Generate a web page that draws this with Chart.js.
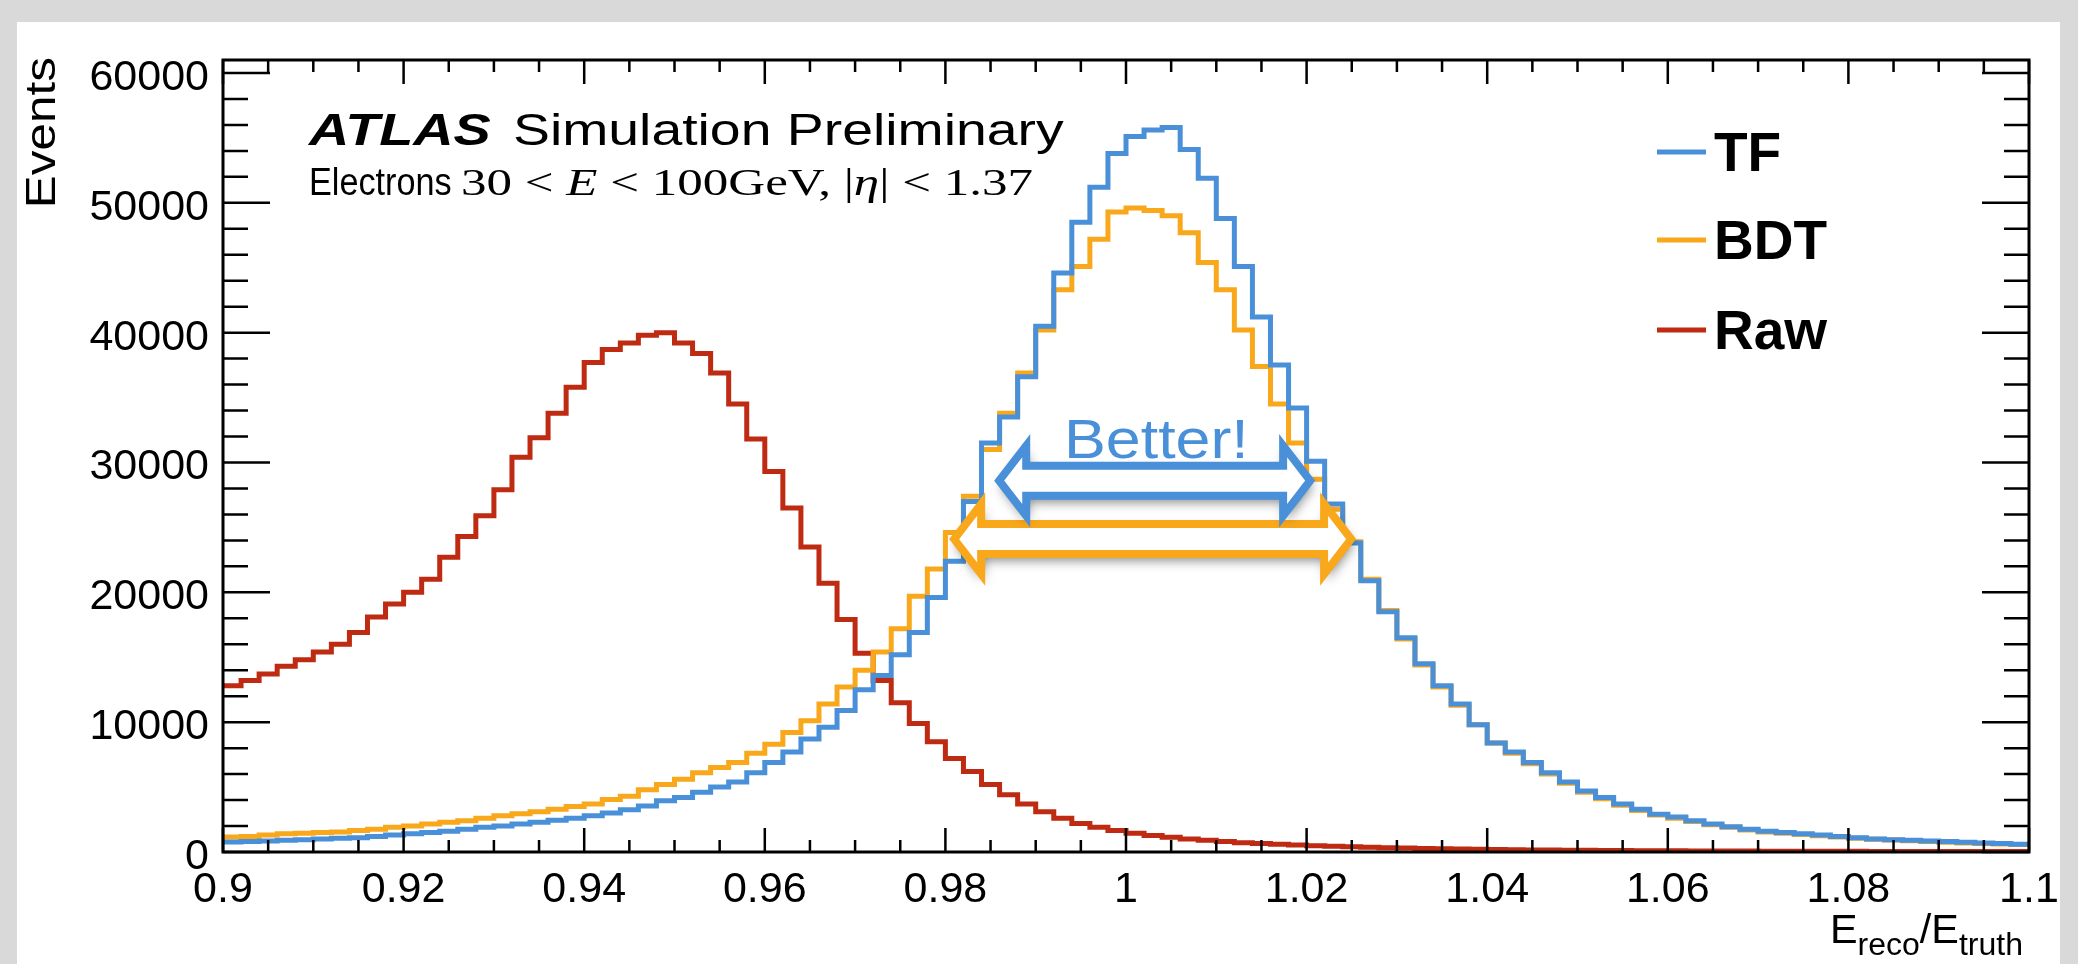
<!DOCTYPE html>
<html>
<head>
<meta charset="utf-8">
<script src="https://cdn.jsdelivr.net/npm/chart.js@4.4.1/dist/chart.umd.min.js"></script>
<style>
  html, body { margin: 0; padding: 0; background: #d9d9d9; overflow: hidden; }
  canvas { display: block; }
</style>
</head>
<body>
<canvas id="response" width="2078" height="964"></canvas>
<script>
// binning of the three histograms: 100 bins from 0.9 to 1.1
const xMin = 0.9;
const xMax = 1.1;
const binWidth = 0.002;
const yMax = 61000;

const xTickValues = [0.9, 0.92, 0.94, 0.96, 0.98, 1.0, 1.02, 1.04, 1.06, 1.08, 1.1];
const yTickValues = [0, 10000, 20000, 30000, 40000, 50000, 60000];

const seriesNames = ["TF", "BDT", "Raw"];

const tfCounts = [
  770, 800, 850, 900, 950, 1000, 1050, 1100, 1200, 1300,
  1400, 1500, 1600, 1750, 1900, 2000, 2150, 2300, 2450, 2600,
  2800, 3000, 3250, 3550, 3950, 4200, 4600, 5000, 5400, 6100,
  6900, 7700, 8700, 9600, 10900, 12500, 13600, 15200, 16900, 19600,
  22400, 27000, 31500, 33500, 36600, 40500, 44600, 48500, 51200, 53800,
  55100, 55600, 55800, 54100, 51900, 48800, 45100, 41200, 37500, 34200,
  30100, 26800, 23800, 20900, 18500, 16500, 14500, 12800, 11400, 9800,
  8400, 7700, 6900, 6100, 5400, 4700, 4200, 3700, 3300, 2900,
  2700, 2400, 2150, 1950, 1750, 1600, 1500, 1400, 1300, 1200,
  1100, 1000, 950, 900, 850, 800, 750, 700, 650, 600,
];

const bdtCounts = [
  1150, 1200, 1300, 1400, 1450, 1500, 1550, 1650, 1750, 1900,
  2000, 2150, 2300, 2400, 2600, 2800, 2950, 3100, 3300, 3500,
  3700, 4050, 4300, 4800, 5200, 5600, 6100, 6500, 6900, 7600,
  8300, 9200, 10100, 11400, 12700, 14000, 15400, 17200, 19700, 21800,
  24600, 27400, 31000, 33800, 36900, 40200, 43300, 45100, 47200, 49300,
  49600, 49400, 49000, 47700, 45400, 43300, 40200, 37400, 34500, 31500,
  28700, 26400, 23900, 21000, 18600, 16400, 14400, 12700, 11300, 9800,
  8400, 7600, 6800, 6000, 5300, 4600, 4100, 3600, 3200, 2850,
  2600, 2350, 2100, 1900, 1700, 1550, 1450, 1350, 1250, 1150,
  1050, 980, 920, 860, 800, 750, 700, 660, 620, 580,
];

const rawCounts = [
  12800, 13200, 13700, 14300, 14800, 15400, 16000, 16900, 18100, 19100,
  20000, 21000, 22700, 24300, 25900, 27900, 30400, 31900, 33800, 35800,
  37700, 38700, 39200, 39800, 40000, 39200, 38400, 36900, 34500, 31800,
  29300, 26500, 23500, 20700, 17900, 15300, 13200, 11500, 9900, 8500,
  7200, 6200, 5200, 4400, 3700, 3100, 2600, 2200, 1900, 1650,
  1450, 1280, 1130, 1000, 900, 800, 720, 650, 590, 530,
  480, 440, 400, 360, 330, 300, 270, 250, 230, 210,
  190, 175, 160, 150, 140, 130, 120, 110, 100, 95,
  90, 85, 80, 75, 70, 65, 60, 58, 55, 52,
  50, 48, 46, 44, 42, 40, 38, 36, 34, 32,
];

// width arrows drawn on the peaks, in axis units
const tfArrow = { from: 0.98596, to: 1.02039, at: 28600 };
const bdtArrow = { from: 0.98097, to: 1.02493, at: 24100 };

const tfColor = "#4a90d9";
const bdtColor = "#f9a81c";
const rawColor = "#bf2a12";

const sans = "'Liberation Sans', Arial, Helvetica, sans-serif";
const serif = "'Liberation Serif', 'Times New Roman', serif";

function histogramPoints(counts) {
  const points = counts.map((count, i) => ({ x: xMin + i * binWidth, y: count }));
  points.push({ x: xMin + counts.length * binWidth, y: counts[counts.length - 1] });
  return points;
}

function formatX(value) {
  return String(Number(value.toFixed(3)));
}

// draws a list of text runs one after another, squeezed or stretched to fit
function drawRuns(ctx, runs, x, baseline, stretch) {
  ctx.save();
  ctx.translate(x, baseline);
  ctx.scale(stretch, 1);
  ctx.textBaseline = "alphabetic";
  ctx.textAlign = "left";
  let cursor = 0;
  for (const run of runs) {
    ctx.font = run.font;
    ctx.fillStyle = run.color || "#000";
    ctx.fillText(run.text, cursor, run.dy || 0);
    cursor += ctx.measureText(run.text).width;
  }
  ctx.restore();
}

function runsWidth(ctx, runs) {
  let width = 0;
  for (const run of runs) {
    ctx.font = run.font;
    width += ctx.measureText(run.text).width;
  }
  return width;
}

function drawArrow(ctx, x0, x1, yc, color) {
  const shaft = 15;
  const head = 35;
  const headLength = 27;
  ctx.save();
  ctx.beginPath();
  ctx.moveTo(x0, yc);
  ctx.lineTo(x0 + headLength, yc - head);
  ctx.lineTo(x0 + headLength, yc - shaft);
  ctx.lineTo(x1 - headLength, yc - shaft);
  ctx.lineTo(x1 - headLength, yc - head);
  ctx.lineTo(x1, yc);
  ctx.lineTo(x1 - headLength, yc + head);
  ctx.lineTo(x1 - headLength, yc + shaft);
  ctx.lineTo(x0 + headLength, yc + shaft);
  ctx.lineTo(x0 + headLength, yc + head);
  ctx.closePath();
  ctx.shadowColor = "rgba(0, 0, 0, 0.5)";
  ctx.shadowBlur = 12;
  ctx.shadowOffsetX = 2;
  ctx.shadowOffsetY = 6;
  ctx.fillStyle = "#fff";
  ctx.fill();
  ctx.shadowColor = "transparent";
  ctx.lineJoin = "miter";
  ctx.lineWidth = 8;
  ctx.strokeStyle = color;
  ctx.stroke();
  ctx.restore();
}

const slidePanel = {
  id: "slidePanel",
  beforeDraw(chart) {
    const { ctx, width, height } = chart;
    ctx.save();
    ctx.fillStyle = "#d9d9d9";
    ctx.fillRect(0, 0, width, height);
    ctx.fillStyle = "#fff";
    ctx.fillRect(17, 22, 2043, height - 22);
    ctx.restore();
  },
};

const rootFrame = {
  id: "rootFrame",
  afterDatasetsDraw(chart) {
    const { ctx, chartArea: area, scales } = chart;
    const xs = scales.x;
    const ys = scales.y;
    ctx.save();
    ctx.strokeStyle = "#000";
    ctx.lineWidth = 2.5;
    ctx.beginPath();
    const xSteps = Math.round((xMax - xMin) / 0.005);
    for (let i = 0; i <= xSteps; i++) {
      const px = xs.getPixelForValue(xMin + i * 0.005);
      const len = i % 4 === 0 ? 24 : 12;
      ctx.moveTo(px, area.bottom);
      ctx.lineTo(px, area.bottom - len);
      ctx.moveTo(px, area.top);
      ctx.lineTo(px, area.top + len);
    }
    for (let v = 0; v <= yMax; v += 2000) {
      const py = ys.getPixelForValue(v);
      const len = v % 10000 === 0 ? 47 : 25;
      ctx.moveTo(area.left, py);
      ctx.lineTo(area.left + len, py);
      ctx.moveTo(area.right, py);
      ctx.lineTo(area.right - len, py);
    }
    ctx.stroke();
    ctx.lineWidth = 3;
    ctx.strokeRect(area.left, area.top, area.right - area.left, area.bottom - area.top);
    ctx.restore();
  },
};

const plotLabels = {
  id: "plotLabels",
  afterDraw(chart) {
    const { ctx, chartArea: area, scales } = chart;
    const xs = scales.x;
    const ys = scales.y;

    drawArrow(ctx, xs.getPixelForValue(bdtArrow.from), xs.getPixelForValue(bdtArrow.to),
      ys.getPixelForValue(bdtArrow.at), bdtColor);
    drawArrow(ctx, xs.getPixelForValue(tfArrow.from), xs.getPixelForValue(tfArrow.to),
      ys.getPixelForValue(tfArrow.at), tfColor);
    drawRuns(ctx, [{ text: "Better!", font: `56px ${sans}`, color: tfColor }], 1064, 458, 1.12);

    // ATLAS label
    drawRuns(ctx, [{ text: "ATLAS", font: `italic bold 45px ${sans}` }], area.left + 86, 145, 1.24);
    drawRuns(ctx, [{ text: "Simulation Preliminary", font: `45px ${sans}` }], area.left + 290, 145, 1.23);
    drawRuns(ctx, [{ text: "Electrons", font: `38px ${sans}` }], area.left + 86, 195, 0.9);
    const mathRuns = [
      { text: "30 < ", font: `37px ${serif}` },
      { text: "E", font: `italic 37px ${serif}` },
      { text: " < 100GeV, |", font: `37px ${serif}` },
      { text: "η", font: `italic 37px ${serif}` },
      { text: "| < 1.37", font: `37px ${serif}` },
    ];
    drawRuns(ctx, mathRuns, area.left + 238, 195, 572 / runsWidth(ctx, mathRuns));

    // legend
    const legendColors = [tfColor, bdtColor, rawColor];
    const legendRows = [152, 240, 330];
    seriesNames.forEach((name, i) => {
      ctx.save();
      ctx.strokeStyle = legendColors[i];
      ctx.lineWidth = 5;
      ctx.beginPath();
      ctx.moveTo(1657, legendRows[i]);
      ctx.lineTo(1706, legendRows[i]);
      ctx.stroke();
      ctx.restore();
      drawRuns(ctx, [{ text: name, font: `bold 55px ${sans}` }], 1714, legendRows[i] + 19, 1);
    });

    // axis titles
    const xTitle = [
      { text: "E", font: `40px ${sans}` },
      { text: "reco", font: `31px ${sans}`, dy: 12 },
      { text: "/E", font: `40px ${sans}` },
      { text: "truth", font: `31px ${sans}`, dy: 12 },
    ];
    drawRuns(ctx, xTitle, 1830, 943, 193 / runsWidth(ctx, xTitle));

    ctx.save();
    ctx.translate(55, 57);
    ctx.rotate(-Math.PI / 2);
    ctx.scale(1.15, 1);
    ctx.font = `43px ${sans}`;
    ctx.fillStyle = "#000";
    ctx.textAlign = "right";
    ctx.textBaseline = "alphabetic";
    ctx.fillText("Events", 0, 0);
    ctx.restore();
  },
};

function histogramDataset(label, counts, color) {
  return {
    label,
    data: histogramPoints(counts),
    borderColor: color,
    borderWidth: 5,
    stepped: "before",
    pointRadius: 0,
    fill: false,
    borderJoinStyle: "miter",
  };
}

const canvas = document.getElementById("response");
new Chart(canvas.getContext("2d"), {
  type: "line",
  data: {
    datasets: [
      histogramDataset(seriesNames[0], tfCounts, tfColor),
      histogramDataset(seriesNames[1], bdtCounts, bdtColor),
      histogramDataset(seriesNames[2], rawCounts, rawColor),
    ],
  },
  options: {
    responsive: false,
    animation: false,
    events: [],
    layout: { padding: { left: 0, right: 49, top: 60, bottom: 0 } },
    plugins: {
      legend: { display: false },
      tooltip: { enabled: false },
    },
    scales: {
      x: {
        type: "linear",
        min: xMin,
        max: xMax,
        afterBuildTicks: (scale) => {
          scale.ticks = xTickValues.map((value) => ({ value }));
        },
        afterFit: (scale) => {
          scale.height = 112;
        },
        grid: { display: false, drawTicks: false },
        border: { display: false },
        ticks: {
          autoSkip: false,
          maxRotation: 0,
          padding: 12,
          color: "#000",
          font: { family: sans, size: 43 },
          callback: (value) => formatX(value),
        },
      },
      y: {
        type: "linear",
        min: 0,
        max: yMax,
        afterBuildTicks: (scale) => {
          scale.ticks = yTickValues.map((value) => ({ value }));
        },
        afterFit: (scale) => {
          scale.width = 223;
        },
        grid: { display: false, drawTicks: false },
        border: { display: false },
        ticks: {
          padding: 14,
          labelOffset: 5,
          color: "#000",
          font: { family: sans, size: 43 },
          callback: (value) => String(value),
        },
      },
    },
  },
  plugins: [slidePanel, rootFrame, plotLabels],
});
</script>
</body>
</html>
